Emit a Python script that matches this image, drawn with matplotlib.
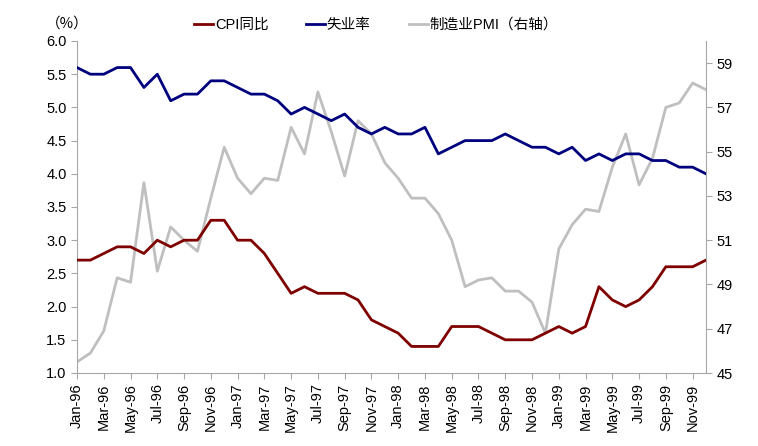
import matplotlib
matplotlib.use("Agg")
import matplotlib.pyplot as plt
import numpy as np

plt.rcParams['font.family'] = ['Liberation Sans', 'Noto Sans CJK SC', 'DejaVu Sans']

months = []
for yr in ['96', '97', '98', '99']:
    for m in ['Jan', 'Feb', 'Mar', 'Apr', 'May', 'Jun', 'Jul', 'Aug', 'Sep', 'Oct', 'Nov', 'Dec']:
        months.append(f"{m}-{yr}")

cpi = [2.7, 2.7, 2.8, 2.9, 2.9, 2.8, 3.0, 2.9, 3.0, 3.0, 3.3, 3.3,
       3.0, 3.0, 2.8, 2.5, 2.2, 2.3, 2.2, 2.2, 2.2, 2.1, 1.8, 1.7,
       1.6, 1.4, 1.4, 1.4, 1.7, 1.7, 1.7, 1.6, 1.5, 1.5, 1.5, 1.6,
       1.7, 1.6, 1.7, 2.3, 2.1, 2.0, 2.1, 2.3, 2.6, 2.6, 2.6, 2.7]

unemp = [5.6, 5.5, 5.5, 5.6, 5.6, 5.3, 5.5, 5.1, 5.2, 5.2, 5.4, 5.4,
         5.3, 5.2, 5.2, 5.1, 4.9, 5.0, 4.9, 4.8, 4.9, 4.7, 4.6, 4.7,
         4.6, 4.6, 4.7, 4.3, 4.4, 4.5, 4.5, 4.5, 4.6, 4.5, 4.4, 4.4,
         4.3, 4.4, 4.2, 4.3, 4.2, 4.3, 4.3, 4.2, 4.2, 4.1, 4.1, 4.0]

pmi = [45.5, 45.9, 46.9, 49.3, 49.1, 53.6, 49.6, 51.6, 51.0, 50.5, 52.9, 55.2,
       53.8, 53.1, 53.8, 53.7, 56.1, 54.9, 57.7, 55.9, 53.9, 56.4, 55.8, 54.5,
       53.8, 52.9, 52.9, 52.2, 51.0, 48.9, 49.2, 49.3, 48.7, 48.7, 48.2, 46.8,
       50.6, 51.7, 52.4, 52.3, 54.3, 55.8, 53.5, 54.7, 57.0, 57.2, 58.1, 57.8]

left_ticks = [1.0, 1.5, 2.0, 2.5, 3.0, 3.5, 4.0, 4.5, 5.0, 5.5, 6.0]
right_ticks = [45, 47, 49, 51, 53, 55, 57, 59]

fig = plt.figure(figsize=(7.58, 4.46), dpi=100)
ax = fig.add_axes([77/758, 1-373/446, (706-77)/758, (373-41)/446])
ax2 = ax.twinx()

x = np.arange(len(months))
spine_c = '#A6A6A6'
l1, = ax.plot(x, cpi, color='#7F0000', lw=2.0, label='CPI同比', zorder=3)
l2, = ax.plot(x, unemp, color='#00007F', lw=2.0, label='失业率', zorder=3)
l3, = ax2.plot(x, pmi, color='#BFBFBF', lw=2.0, label='制造业PMI（右轴）', zorder=2)
ax.set_zorder(ax2.get_zorder() + 1)
ax.patch.set_visible(False)

ax.set_xlim(0, len(months) - 1)
ax.set_ylim(1.0, 6.0)
ax.set_yticks(left_ticks)
ax.set_yticklabels([f"{v:.1f}" for v in left_ticks])
ax2.set_ylim(45, 60)
ax2.set_yticks(right_ticks)
ax2.set_yticklabels([str(v) for v in right_ticks])

ax.set_xticks(x[::2])
ax.set_xticklabels(months[::2], rotation=90)

for a in (ax, ax2):
    a.spines['top'].set_visible(False)
    for s in ['left', 'right', 'bottom']:
        a.spines[s].set_color(spine_c)
    a.tick_params(colors=spine_c, labelcolor='black', labelsize=10.5, length=4, direction='out')
ax.spines['right'].set_visible(False)
ax2.spines['left'].set_visible(False)
ax2.spines['bottom'].set_visible(False)

fig.text(67/758, 1-24/446, '（%）', fontsize=10.5, ha='center', va='center',
         family=['Noto Sans CJK SC', 'DejaVu Sans'])

leg = fig.legend(handles=[l1, l2, l3], loc='center', bbox_to_anchor=(376/758, 1-25/446),
                 ncol=3, frameon=False, handlelength=1.3, handletextpad=0.1,
                 columnspacing=2.6, prop={'family': ['Liberation Sans', 'Noto Sans CJK SC'], 'size': 10.5})

fig.savefig('out.png', dpi=100)
